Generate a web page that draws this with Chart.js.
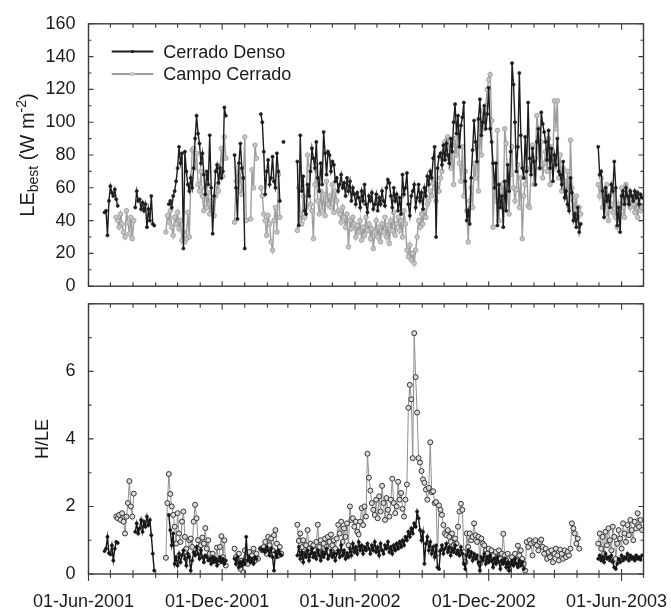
<!DOCTYPE html>
<html><head><meta charset="utf-8">
<script src="https://cdn.jsdelivr.net/npm/chart.js@4.4.0/dist/chart.umd.min.js"></script>
<style>
html,body{margin:0;padding:0;background:#fff;}
#wrap{position:relative;width:671px;height:609px;overflow:hidden;background:#fff;}
canvas{position:absolute;left:0;}
#c1{top:0;}
#c2{top:280px;}
</style></head><body>
<div id="wrap"><canvas id="c1" width="671" height="310"></canvas><canvas id="c2" width="671" height="329"></canvas></div>
<script>
// ---------- data (runs: [first day since 01-Jun-2001, values every DAY_STEP days]) ----------
const DAY_STEP = 2;
const SERIES_NAMES = ['Cerrado Denso', 'Campo Cerrado'];
const MONTH_NAMES = ['Jan','Feb','Mar','Apr','May','Jun','Jul','Aug','Sep','Oct','Nov','Dec'];

const LE_DENSO_RUNS = [
  [22, [45,46,31,52,61,57,55,59,53,49]],
  [64, [48,58,52,53,47,51,46,50,36,47,40,55,38,37]],
  [110, [50,52,48,55,58,64,72,85,75,81,23,82,70,62,58,66,60,72,90,104,93,87,75,81,68,56,70,62,92,60,32,55,70,74,63,72,66,70,109,104]],
  [200, [80,60,41,75,87,72,66,23]],
  [236, [105,100,82,56,70,77,62,66,79,64,60,81,70,52]],
  [267, [88]],
  [286, [76,37,92,58,67,46,44,62,55,70,
         84,78,72,88,66,58,75,62,94,81,
         68,82,80,70,76,74,64,66,58,62,
         68,60,63,55,66,58,64,52,60,56,
         50,57,54,48,58,52,62,50,45,55,
         52,57,47,50,56,46,54,50,58,52,
         49,60,65,63,55,48,60,52,56,46,
         54,44,68,56,60,69,50,43,55,58,
         62,48,54,62,52,57,47,60,55,67,
         62,70,66,78,85,30,72,79,81,74,
         86,77,87,80,75,90,82,100,111,93,
         104,85,98,103,112,64,40,46,38,66,
         83,101,88,76,102,114,92,100,110,96,
         105,121,96,88,75,60,75,37,62,48,
         55,36,64,46,74,58,82,136,123,100,
         70,85,130,92,72,66,91,70,112,78,
         68,84,76,62,88,96,72,106,99,94,
         88,77,95,72,84,64,80,74,90,70,
         68,62,76,54,58,50,46,66,57,40,
         44,36,48,33,38]],
  [698, [85,68,70,58,42,60,52,55,48,62,58,76,60,37,48,33,55,58,50,60,55,50,58,55,52,58,54,57,50,56,54]]
];

const LE_CAMPO_RUNS = [
  [38, [42,40,36,44,38,33,30,46,39,32,42,29,40]],
  [106, [33,43,39,46,36,31,42,38,45,35,40,28,33,27,29,45,30,62,83,84,72,81,62,58,70,55,46,60,48,57,44,52,46,43,55,62,58,72,84,67,91,78]],
  [200, [39,64,72,58,70,56,66,91,40]],
  [222, [41,71,60,86,78]],
  [236, [60,55,44,40,31,43,38,27,22,40,48,33,68,42]],
  [286, [34,60,44,38,55,42,48,80,72,50,
         46,29,62,74,52,44,58,46,56,43,
         64,50,55,48,62,45,58,52,46,44,
         39,48,42,36,44,24,40,35,42,38,
         30,37,33,40,28,36,31,42,34,38,
         29,35,23,33,40,30,36,27,38,33,
         42,30,37,26,40,34,45,31,38,42,
         34,40,30,46,38,22,18,25,16,20,
         14,22,30,40,36,44,38,46,42,50,
         52,58,55,63,60,52,62,58,66,70,
         82,88,78,91,84,72,86,62,90,80,
         94,75,64,85,55,70,46,27,52,60,
         48,75,66,85,58,101,80,107,96,110,
         120,126,129,101,36,64,52,95,40,58,
         62,48,96,87,57,44,68,85,60,52,
         59,74,48,66,29,55,62,72,49,48,
         71,86,62,78,104,96,72,88,66,75,
         82,70,90,62,85,78,113,96,113,66,
         80,58,72,64,54,70,48,89,60,52,
         46,55,42,48,44]],
  [698, [62,55,66,48,58,44,62,40,55,50,45,58,42,36,50,44,60,48,42,62,52,58,48,55,50,45,52,42,50,46,48]]
];

const HLE_DENSO_RUNS = [
  [22, [0.68,0.75,1.1,0.62,0.58,0.85,0.4,0.75,0.95,0.92]],
  [64, [1.25,1.5,1.2,1.35,1.6,1.25,1.55,1.4,1.7,1.45,1.6,1.15,0.6,0.1]],
  [110, [1.75,1.3,0.85,1.2,0.3,0.5,0.25,0.6,0.35,0.55,0.7,0.45,0.25,0.6,0.5,0.1,0.4,0.65,0.55,0.8,0.6,0.45,0.7,0.5,0.35,0.55,0.5,0.4,0.45,0.3,0.5,0.35,0.45,0.25,0.4,0.5,0.35,0.45,0.3,0.4]],
  [200, [0.45,0.3,0.5,0.2,0.35,0.25,0.4,0.3,1.1,0.4,0.5,0.35,0.45,0.3,0.5,0.45]],
  [236, [0.75,0.7,0.72,0.65,0.8,0.7,0.55,0.75,0.5,0.1,0.65,0.5,0.7,0.6,0.55]],
  [286, [0.55,0.8,0.45,0.65,0.35,0.6,0.5,0.7,0.4,0.6,
         0.75,0.5,0.62,0.45,0.7,0.55,0.4,0.65,0.5,0.6,
         0.75,0.45,0.55,0.7,0.5,0.62,0.4,0.6,0.7,0.5,
         0.85,0.55,0.7,0.45,0.62,0.5,0.75,0.55,0.9,0.65,
         0.8,0.6,0.95,0.7,0.85,0.6,0.8,0.7,0.9,0.75,
         0.6,0.85,0.7,0.95,0.65,0.8,0.55,0.9,0.7,0.6,
         0.85,0.75,0.95,0.65,0.8,0.6,0.85,0.7,0.9,0.75,
         0.95,0.8,1.0,0.85,1.1,1.0,1.25,1.1,1.35,1.2,
         1.5,1.4,1.85,1.65,1.3,1.0,1.25,0.3,0.9,1.1,
         0.7,0.95,0.6,0.8,0.5,0.85,0.2,0.15,0.7,0.85,
         0.6,0.75,0.9,0.65,0.8,0.55,0.75,0.65,0.85,0.6,
         0.7,0.55,0.8,0.6,0.3,0.15,0.55,0.7,0.5,0.65,
         0.4,0.6,0.45,0.55,0.35,0.1,0.5,0.4,0.6,0.3,
         0.5,0.35,0.55,0.4,0.2,0.45,0.3,0.5,0.35,0.15,
         0.4,0.3,0.45,0.2,0.35,0.1,0.3,0.4,0.25,0.45,
         0.3,0.2,0.4,0.25,0.35,0.15]],
  [698, [0.45,0.55,0.4,0.5,0.35,0.6,0.45,0.5,0.4,0.55,0.35,0.2,0.15,0.3,0.45,0.35,0.55,0.4,0.5,0.45,0.6,0.4,0.55,0.45,0.5,0.4,0.55,0.45,0.5,0.42,0.55]]
];

const HLE_CAMPO_RUNS = [
  [38, [1.7,1.65,1.75,1.6,1.8,1.55,1.2,1.7,2.1,2.75,2.0,1.7,2.38]],
  [106, [0.48,2.1,2.96,2.37,2.0,1.75,1.4,0.9,1.8,1.2,0.95,1.55,1.85,1.1,0.75,0.55,1.0,1.05,0.8,1.55,2.05,1.65,1.0,0.8,0.85,1.08,0.9,1.36,0.75,1.0,0.6,0.42,0.6,0.45,0.42,0.78,0.35,0.8,1.12,0.5,1.0,0.25]],
  [200, [0.75,0.5,0.3,0.6,0.15,0.4,0.05,0.7,0.5,0.3,0.65,0.45,0.55,0.75,0.4,0.6,0.45]],
  [236, [0.75,0.7,0.8,0.95,0.6,1.1,0.85,1.05,0.7,1.15,1.3,0.9,0.55,0.8,0.6]],
  [286, [1.46,0.98,1.2,0.79,1.0,0.6,0.85,1.3,0.75,0.9,
         0.55,0.85,0.7,0.95,1.46,0.8,1.0,0.65,0.9,1.05,
         0.8,1.1,0.95,1.17,0.85,1.0,0.75,1.05,1.46,1.2,
         1.55,0.95,1.35,1.1,1.5,0.85,2.0,1.6,1.65,1.4,
         1.55,1.25,1.17,1.55,1.95,1.45,2.0,1.7,3.56,2.85,
         2.47,2.1,1.9,1.75,2.2,1.65,2.3,1.85,2.61,2.1,
         1.6,2.25,1.9,1.7,2.2,2.82,2.1,1.8,2.0,2.73,
         2.2,2.4,1.93,1.7,2.2,2.65,4.92,5.6,5.17,3.43,
         7.13,5.83,4.78,3.43,3.3,3.05,2.8,2.7,2.5,2.2,
         2.55,3.9,2.42,2.45,2.1,2.13,0.6,2.03,1.9,1.75,
         1.45,1.2,1.15,1.3,1.1,0.95,1.2,0.85,1.05,0.9,
         1.4,1.85,2.08,1.9,0.65,0.35,1.2,0.8,1.2,1.0,
         1.1,1.5,1.15,0.95,1.1,0.3,1.05,0.9,0.85,0.7,
         0.6,0.75,0.45,0.7,0.55,0.4,0.65,0.5,0.7,0.45,
         0.6,1.19,0.55,0.4,0.6,0.15,0.3,0.5,0.35,0.6,
         0.4,0.84,0.55,0.7,0.45,0.3,0.1,0.95,0.8,1.0,
         0.9,0.55,0.95,1.0,0.85,0.7,0.95,1.02,0.8,0.6,
         0.75,0.45,0.65,0.5,0.7,0.35,0.6,0.75,0.55,0.4,
         0.72,0.6,0.45,0.7,0.5,0.65,0.55,0.75,1.5,1.35,
         1.2,0.9,1.05,0.75]],
  [698, [0.9,1.2,0.75,1.1,0.6,1.25,0.85,1.35,1.0,0.7,1.4,1.1,0.45,0.9,1.3,1.05,0.75,1.5,1.2,0.95,1.45,1.15,1.6,1.3,1.0,1.55,1.35,1.8,1.4,1.6,1.3]]
];

// axis title texts: [text, font size, baseline offset]
const TITLE_TOP = [['LE', 20, 0], ['best', 14, 4], [' (W m', 20, 0], ['-2', 14, -8], [')', 20, 0]];
const TITLE_BOTTOM = [['H/LE', 18, 0]];

// ---------- helpers ----------
const FONT = '"Liberation Sans", Arial, Helvetica, sans-serif';
Chart.defaults.font.family = FONT;
Chart.defaults.color = '#1a1a1a';

function runsToPoints(runs) {
  const pts = [];
  runs.forEach(([start, vals]) => {
    vals.forEach((v, i) => pts.push({ x: start + i * DAY_STEP, y: v }));
    pts.push({ x: start + (vals.length - 1) * DAY_STEP + 1, y: null });
  });
  return pts;
}

const AXIS_START = Date.UTC(2001, 5, 1);
const MONTH_TICKS = [];
for (let k = 0; k <= 25; k++) {
  const t = Date.UTC(2001, 5 + k, 1);
  const d = new Date(t);
  MONTH_TICKS.push({ day: Math.round((t - AXIS_START) / 86400000), month: d.getUTCMonth(), year: d.getUTCFullYear() });
}
const X_MAX = MONTH_TICKS[MONTH_TICKS.length - 1].day;
function tickLabel(day) {
  const m = MONTH_TICKS.find(t => t.day === day);
  if (!m || (m.month !== 5 && m.month !== 11)) return '';
  return '01-' + MONTH_NAMES[m.month] + '-' + m.year;
}

// ---------- plugins ----------
function makeFramePlugin(outTicks) {
  return {
    id: 'frame',
    afterDraw(chart) {
      const { ctx, chartArea: a } = chart;
      const xs = chart.scales.x, ys = chart.scales.y;
      ctx.save();
      ctx.strokeStyle = '#3a3a3a';
      ctx.lineWidth = 1.4;
      ctx.strokeRect(a.left, a.top, a.right - a.left, a.bottom - a.top);
      ctx.lineWidth = 1.1;
      ctx.beginPath();
      const step = ys.ticks[1].value - ys.ticks[0].value;
      for (let v = ys.min; v <= ys.max + 1e-9; v += step / 2) {
        const major = Math.abs(v / step - Math.round(v / step)) < 1e-6;
        const len = major ? 5 : 3;
        const py = ys.getPixelForValue(v);
        ctx.moveTo(a.left, py); ctx.lineTo(a.left + len, py);
        ctx.moveTo(a.right, py); ctx.lineTo(a.right - len, py);
      }
      MONTH_TICKS.forEach(m => {
        const px = xs.getPixelForValue(m.day);
        const major = m.month === 5 || m.month === 11;
        ctx.moveTo(px, a.top); ctx.lineTo(px, a.top + (major ? 6 : 4));
        ctx.moveTo(px, a.bottom - (major ? 5 : 4));
        ctx.lineTo(px, a.bottom + (outTicks ? (major ? 7 : 4) : 0));
      });
      ctx.stroke();
      ctx.restore();
    }
  };
}

function makeTitlePlugin(pieces, baselineX) {
  return {
    id: 'axisTitle',
    afterDraw(chart) {
      const { ctx, chartArea: a } = chart;
      ctx.save();
      ctx.fillStyle = '#1a1a1a';
      ctx.textBaseline = 'alphabetic';
      ctx.textAlign = 'left';
      let total = 0;
      const widths = pieces.map(([text, size]) => { ctx.font = size + 'px ' + FONT; const w = ctx.measureText(text).width; total += w; return w; });
      ctx.translate(baselineX, (a.top + a.bottom) / 2);
      ctx.rotate(-Math.PI / 2);
      let cx = -total / 2;
      pieces.forEach(([text, size, dy], i) => { ctx.font = size + 'px ' + FONT; ctx.fillText(text, cx, dy); cx += widths[i]; });
      ctx.restore();
    }
  };
}

const legendPlugin = {
  id: 'lineLegend',
  afterDraw(chart) {
    const { ctx, chartArea: a } = chart;
    const L = { left: 23.2, top: 27.8, gap: 22.4, len: 41.6, textGap: 10, size: 18 };
    ctx.save();
    chart.data.datasets.forEach((ds, i) => {
      const y = a.top + L.top + i * L.gap;
      const x0 = a.left + L.left;
      ctx.strokeStyle = ds.borderColor; ctx.lineWidth = 2;
      ctx.beginPath(); ctx.moveTo(x0, y); ctx.lineTo(x0 + L.len, y); ctx.stroke();
      ctx.beginPath(); ctx.arc(x0 + L.len / 2, y, ds.pointRadius, 0, Math.PI * 2);
      ctx.fillStyle = ds.pointBackgroundColor; ctx.fill();
      ctx.font = L.size + 'px ' + FONT; ctx.fillStyle = '#1a1a1a'; ctx.textBaseline = 'middle';
      ctx.fillText(ds.label, x0 + L.len + L.textGap, y + 1);
    });
    ctx.restore();
  }
};

const yAxisBase = (max, step, hideTop) => ({
  min: 0, max: max,
  ticks: { stepSize: step, padding: 13, font: { size: 18 }, color: '#1a1a1a',
           callback: v => (hideTop && v === max) ? '' : v },
  grid: { display: false, drawTicks: false },
  border: { display: false },
  afterFit: s => { s.width = 88.5; }
});

// ---------- top chart: LE_best ----------
new Chart(document.getElementById('c1'), {
  type: 'line',
  data: { datasets: [
    { label: SERIES_NAMES[0], data: runsToPoints(LE_DENSO_RUNS), borderColor: '#1c1c1c', borderWidth: 1.4,
      pointRadius: 1.6, pointBackgroundColor: '#1c1c1c', pointBorderColor: '#1c1c1c', pointBorderWidth: 0.6, tension: 0, spanGaps: false },
    { label: SERIES_NAMES[1], data: runsToPoints(LE_CAMPO_RUNS), borderColor: '#9d9d9d', borderWidth: 1.4,
      pointRadius: 2.3, pointBackgroundColor: '#c6c6c6', pointBorderColor: '#989898', pointBorderWidth: 0.8, tension: 0, spanGaps: false }
  ]},
  options: {
    responsive: false, animation: false, events: [],
    layout: { padding: { left: 0, right: 27.5, top: 20.5, bottom: 13 } },
    scales: {
      x: { type: 'linear', min: 0, max: X_MAX, display: false },
      y: yAxisBase(160, 20, false)
    },
    plugins: { legend: { display: false }, tooltip: { enabled: false } }
  },
  plugins: [makeFramePlugin(false), makeTitlePlugin(TITLE_TOP, 33.5), legendPlugin]
});

// ---------- bottom chart: H/LE ----------
new Chart(document.getElementById('c2'), {
  type: 'line',
  data: { datasets: [
    { label: SERIES_NAMES[0], data: runsToPoints(HLE_DENSO_RUNS), borderColor: '#151515', borderWidth: 1.4,
      pointRadius: 1.6, pointBackgroundColor: '#151515', pointBorderColor: '#151515', pointBorderWidth: 0.6, tension: 0, spanGaps: false },
    { label: SERIES_NAMES[1], data: runsToPoints(HLE_CAMPO_RUNS), borderColor: '#8f8f8f', borderWidth: 1,
      pointRadius: 2.5, pointBackgroundColor: '#dcdcdc', pointBorderColor: '#333333', pointBorderWidth: 1, tension: 0, spanGaps: false }
  ]},
  options: {
    responsive: false, animation: false, events: [],
    layout: { padding: { left: 0, right: 27.5, top: 17, bottom: 0 } },
    scales: {
      x: { type: 'linear', min: 0, max: X_MAX, position: 'bottom',
           afterBuildTicks: s => { s.ticks = MONTH_TICKS.map(m => ({ value: m.day })); },
           ticks: { autoSkip: false, maxRotation: 0, minRotation: 0, padding: 17, labelOffset: -5,
                    font: { size: 18 }, color: '#1a1a1a', callback: v => tickLabel(v) },
           grid: { display: false, drawTicks: false }, border: { display: false },
           afterFit: s => { s.height = 35; } },
      y: yAxisBase(8, 2, true)
    },
    plugins: { legend: { display: false }, tooltip: { enabled: false } }
  },
  plugins: [makeFramePlugin(true), makeTitlePlugin(TITLE_BOTTOM, 48.3)]
});
</script></body></html>
